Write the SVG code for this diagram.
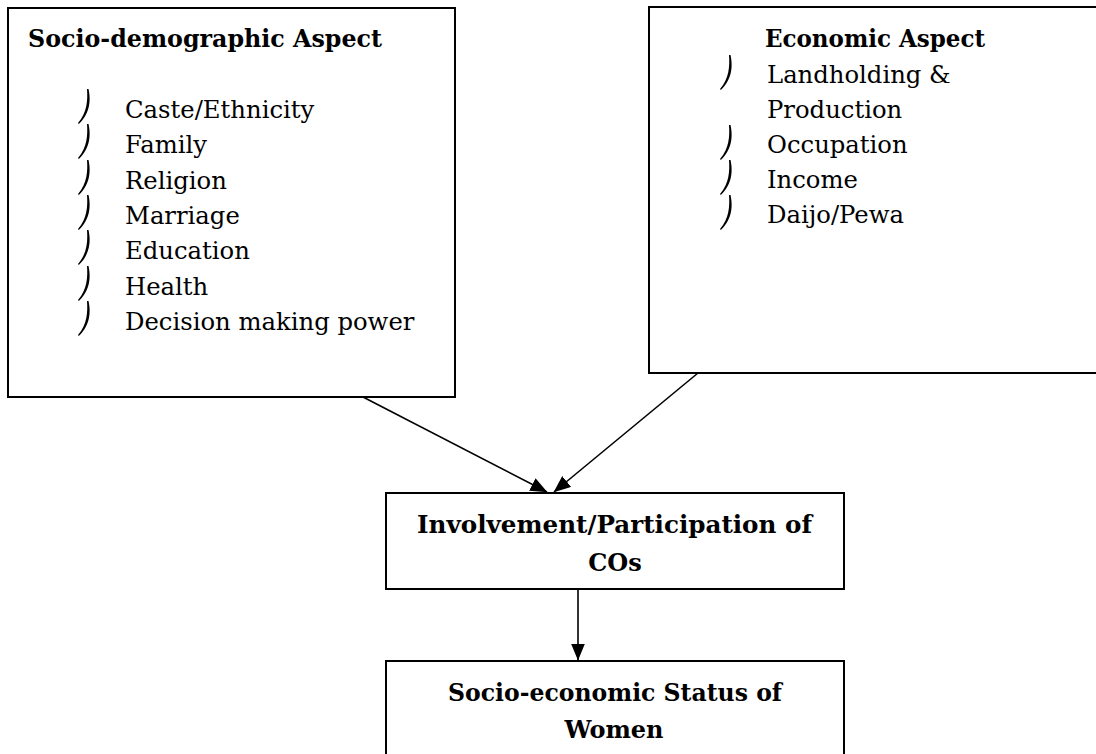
<svg xmlns="http://www.w3.org/2000/svg" width="1096" height="754" viewBox="0 0 1096 754">
  <style>
    .box { fill: #ffffff; stroke: #000000; stroke-width: 2; }
    .head { font-family: "DejaVu Serif", "Liberation Serif", serif; font-weight: bold; font-size: 24px; fill: #000000; }
    .item { font-family: "DejaVu Serif", "Liberation Serif", serif; font-size: 24.3px; fill: #000000; }
    .link { fill: none; stroke: #000000; stroke-width: 1.6; }
  </style>
  <defs>
    <!-- hook-shaped list bullet -->
    <path id="bullet" d="M 10.5 0 C 12.8 10 12.6 24 0.8 35 L 0 34 C 9.2 23.5 9.8 11 9 0 Z" fill="#000000"/>
    <marker id="arrow" viewBox="0 0 17 14" refX="16.5" refY="7" markerWidth="17" markerHeight="14" markerUnits="userSpaceOnUse" orient="auto">
      <path d="M 0 0 L 17 7 L 0 14 Z" fill="#000000"/>
    </marker>
  </defs>

  <rect width="1096" height="754" fill="#ffffff"/>

  <g id="socio-demographic">
    <rect class="box" x="8" y="8" width="447" height="389"/>
    <text class="head" x="28" y="47" textLength="354" lengthAdjust="spacingAndGlyphs">Socio-demographic Aspect</text>
    <use href="#bullet" x="78" y="89"/>
    <text class="item" x="125" y="118">Caste/Ethnicity</text>
    <use href="#bullet" x="78" y="124"/>
    <text class="item" x="125" y="153">Family</text>
    <use href="#bullet" x="78" y="160"/>
    <text class="item" x="125" y="189">Religion</text>
    <use href="#bullet" x="78" y="195"/>
    <text class="item" x="125" y="224">Marriage</text>
    <use href="#bullet" x="78" y="230"/>
    <text class="item" x="125" y="259">Education</text>
    <use href="#bullet" x="78" y="266"/>
    <text class="item" x="125" y="295">Health</text>
    <use href="#bullet" x="78" y="301"/>
    <text class="item" x="125" y="330">Decision making power</text>
  </g>

  <g id="economic">
    <rect class="box" x="649" y="7" width="460" height="366"/>
    <text class="head" x="765" y="47" textLength="220" lengthAdjust="spacingAndGlyphs">Economic Aspect</text>
    <use href="#bullet" x="720" y="55"/>
    <text class="item" x="767" y="83">Landholding &amp;</text>
    <text class="item" x="767" y="118">Production</text>
    <use href="#bullet" x="720" y="125"/>
    <text class="item" x="767" y="153">Occupation</text>
    <use href="#bullet" x="720" y="160"/>
    <text class="item" x="767" y="188">Income</text>
    <use href="#bullet" x="720" y="195"/>
    <text class="item" x="767" y="223">Daijo/Pewa</text>
  </g>

  <g id="connectors">
    <line class="link" x1="363" y1="397" x2="547" y2="492" marker-end="url(#arrow)"/>
    <line class="link" x1="698" y1="373" x2="554" y2="492" marker-end="url(#arrow)"/>
    <line class="link" x1="578" y1="589" x2="578" y2="660" marker-end="url(#arrow)"/>
  </g>

  <g id="participation">
    <rect class="box" x="386" y="493" width="458" height="96"/>
    <text class="head" x="417" y="533" textLength="395" lengthAdjust="spacingAndGlyphs">Involvement/Participation of</text>
    <text class="head" x="615" y="571" text-anchor="middle">COs</text>
  </g>

  <g id="status">
    <rect class="box" x="386" y="661" width="458" height="110"/>
    <text class="head" x="448" y="701" textLength="334" lengthAdjust="spacingAndGlyphs">Socio-economic Status of</text>
    <text class="head" x="614" y="738" text-anchor="middle">Women</text>
  </g>
</svg>
